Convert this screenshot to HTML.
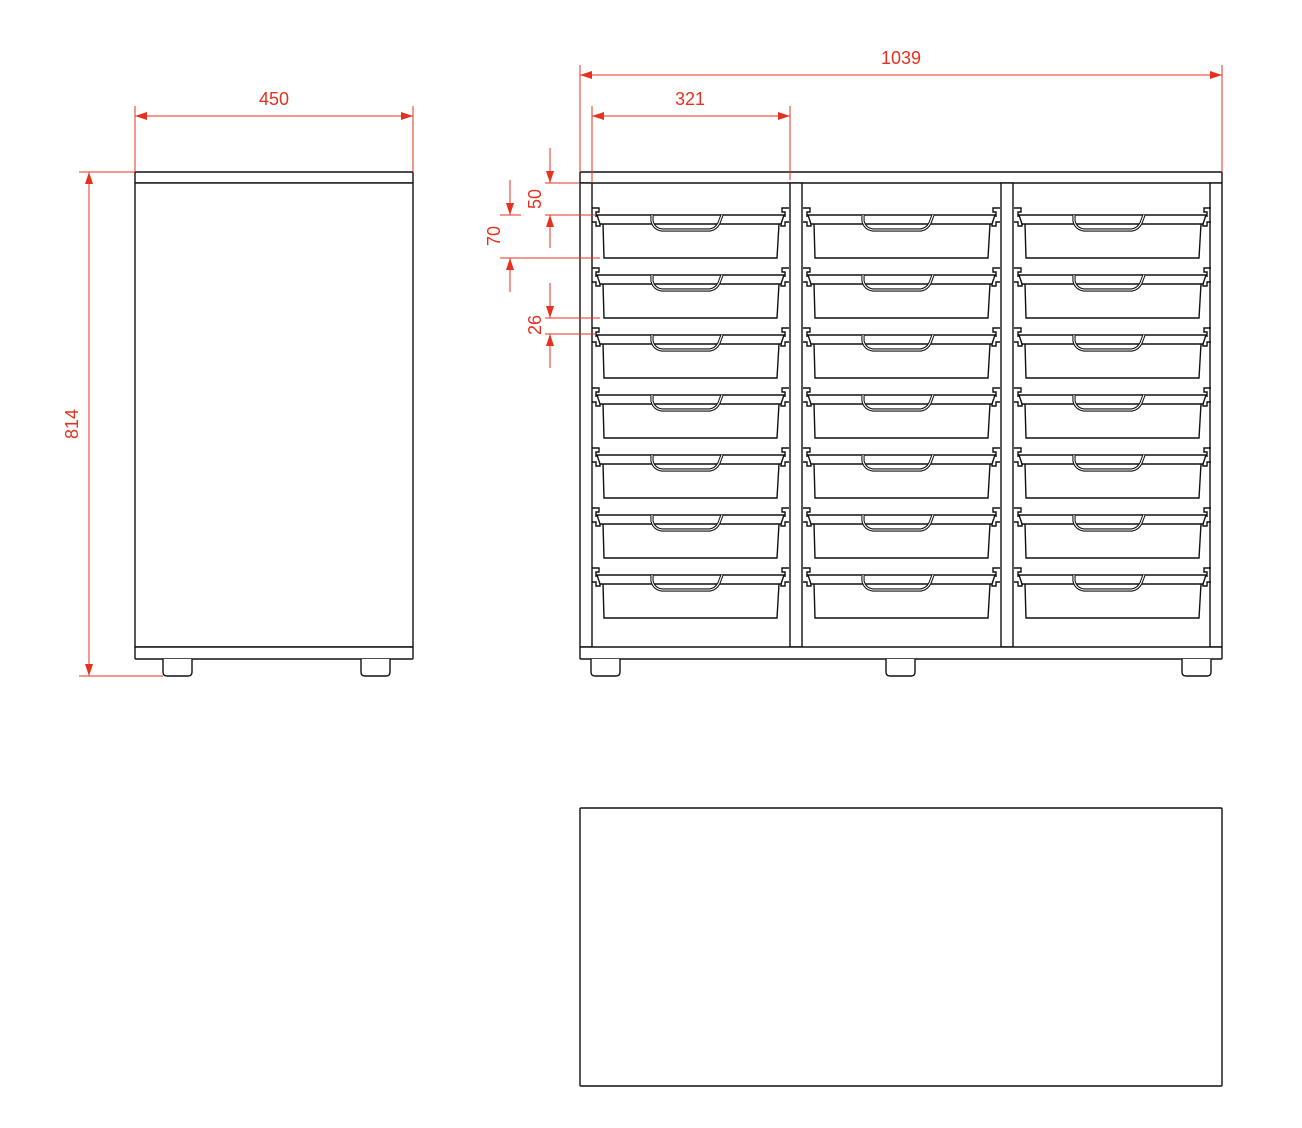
<!DOCTYPE html>
<html><head><meta charset="utf-8"><style>
html,body{margin:0;padding:0;background:#fff;}
svg{display:block;}
text{font-family:"Liberation Sans",sans-serif;font-size:18px;fill:#e5311f;}
</style></head><body>
<svg width="1302" height="1128" viewBox="0 0 1302 1128" xmlns="http://www.w3.org/2000/svg">
<defs>
<g id="tray" fill="none" stroke="#111" stroke-width="1.4">
  <path d="M0 208 h7 v4 h-3 v5 M0 222 h4 v4 h4 v-4" />
  <path d="M197 208 h-7 v4 h3 v5 M197 222 h-4 v4 h-4 v-4" />
  <path d="M5 215 H192 L189 224 H8 Z" fill="#fff"/>
  <path d="M11 224 L12 258 H185 L187 224"/>
  <path d="M60 215 v6 q2 8 10 9 h48 q6 -1 9 -7 l3 -8" stroke-width="3.2"/>
  <path d="M60 215 v6 q2 8 10 9 h48 q6 -1 9 -7 l3 -8" stroke="#fff" stroke-width="1.1"/>
</g>
<g id="row">
  <use href="#tray" x="592"/>
  <use href="#tray" x="803"/>
  <use href="#tray" x="1014"/>
</g>
<marker id="a" viewBox="0 0 12 8" refX="12" refY="4" markerWidth="12" markerHeight="8" markerUnits="userSpaceOnUse" orient="auto"><path d="M0 0 L12 4 L0 8 Z" fill="#e5311f"/></marker>
<marker id="b" viewBox="0 0 12 8" refX="0" refY="4" markerWidth="12" markerHeight="8" markerUnits="userSpaceOnUse" orient="auto"><path d="M12 0 L0 4 L12 8 Z" fill="#e5311f"/></marker>
</defs>

<g fill="#fff" stroke="#111" stroke-width="1.4">
  <rect x="135" y="172" width="278" height="11" rx="1"/>
  <rect x="135" y="183" width="278" height="464"/>
  <rect x="135" y="647" width="278" height="12" rx="1"/>
  <path d="M163 659 v13 q0 4 4 4 h21 q4 0 4 -4 v-13"/>
  <path d="M361 659 v13 q0 4 4 4 h21 q4 0 4 -4 v-13"/>
</g>

<g fill="#fff" stroke="#111" stroke-width="1.4">
  <rect x="580" y="172" width="642" height="11" rx="1"/>
  <rect x="580" y="183" width="12" height="464"/>
  <rect x="1210" y="183" width="12" height="464"/>
  <rect x="790" y="183" width="12" height="464"/>
  <rect x="1001" y="183" width="12" height="464"/>
  <rect x="580" y="647" width="642" height="12" rx="1"/>
  <path d="M591 659 v13 q0 4 4 4 h21 q4 0 4 -4 v-13"/>
  <path d="M886 659 v13 q0 4 4 4 h21 q4 0 4 -4 v-13"/>
  <path d="M1182 659 v13 q0 4 4 4 h21 q4 0 4 -4 v-13"/>
</g>
<use href="#row" y="0"/>
<use href="#row" y="60"/>
<use href="#row" y="120"/>
<use href="#row" y="180"/>
<use href="#row" y="240"/>
<use href="#row" y="300"/>
<use href="#row" y="360"/>

<rect x="580" y="808" width="642" height="278" rx="1" fill="#fff" stroke="#111" stroke-width="1.4"/>

<g stroke="#e5311f" stroke-width="1" fill="none">
  <line x1="135" y1="106" x2="135" y2="172"/>
  <line x1="413" y1="106" x2="413" y2="172"/>
  <line x1="135" y1="116" x2="413" y2="116" marker-start="url(#b)" marker-end="url(#a)"/>
  <line x1="79" y1="172" x2="135" y2="172"/>
  <line x1="79" y1="676" x2="163" y2="676"/>
  <line x1="89" y1="172" x2="89" y2="676" marker-start="url(#b)" marker-end="url(#a)"/>
  <line x1="580" y1="65" x2="580" y2="172"/>
  <line x1="1222" y1="65" x2="1222" y2="172"/>
  <line x1="580" y1="75" x2="1222" y2="75" marker-start="url(#b)" marker-end="url(#a)"/>
  <line x1="592" y1="106" x2="592" y2="183"/>
  <line x1="790" y1="106" x2="790" y2="180"/>
  <line x1="592" y1="116" x2="790" y2="116" marker-start="url(#b)" marker-end="url(#a)"/>
  <line x1="545" y1="183" x2="580" y2="183"/>
  <line x1="545" y1="215" x2="596" y2="215"/>
  <line x1="550" y1="148" x2="550" y2="183" marker-end="url(#a)"/>
  <line x1="550" y1="248" x2="550" y2="215" marker-end="url(#a)"/>
  <line x1="500" y1="215" x2="521" y2="215"/>
  <line x1="500" y1="258" x2="600" y2="258"/>
  <line x1="510" y1="180" x2="510" y2="215" marker-end="url(#a)"/>
  <line x1="510" y1="292" x2="510" y2="258" marker-end="url(#a)"/>
  <line x1="545" y1="318" x2="600" y2="318"/>
  <line x1="545" y1="334" x2="596" y2="334"/>
  <line x1="550" y1="283" x2="550" y2="318" marker-end="url(#a)"/>
  <line x1="550" y1="368" x2="550" y2="334" marker-end="url(#a)"/>
</g>
<text x="274" y="105" text-anchor="middle">450</text>
<text x="901" y="64" text-anchor="middle">1039</text>
<text x="690" y="105" text-anchor="middle">321</text>
<text transform="translate(78,424) rotate(-90)" text-anchor="middle">814</text>
<text transform="translate(541,199) rotate(-90)" text-anchor="middle">50</text>
<text transform="translate(500,236) rotate(-90)" text-anchor="middle">70</text>
<text transform="translate(541,325) rotate(-90)" text-anchor="middle">26</text>
</svg>
</body></html>
